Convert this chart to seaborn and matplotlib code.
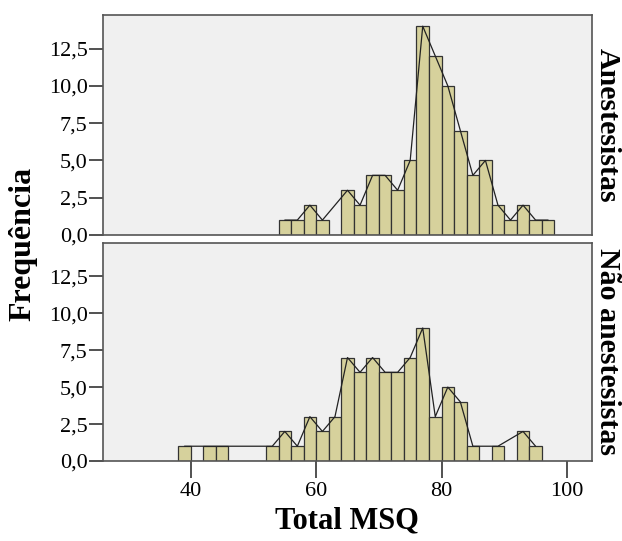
import matplotlib
matplotlib.use("Agg")
import matplotlib.pyplot as plt
import seaborn as sns
import numpy as np
import pandas as pd

# bin counts, bins of width 2 starting at the given left edge
group_labels = ["Anestesistas", "Não anestesistas"]
anest_start = 54
anest_counts = [1, 1, 2, 1, 0, 3, 2, 4, 4, 3, 5, 14, 12, 10, 7, 4, 5, 2, 1, 2, 1, 1]
nao_start = 38
nao_counts = [1, 0, 1, 1, 0, 0, 0, 1, 2, 1, 3, 2, 3, 7, 6, 7, 6, 6, 7, 9, 3, 5, 4, 1, 0, 1, 0, 2, 1]
bin_width = 2
x_ticks = [40, 60, 80, 100]
y_ticks = [0, 2.5, 5, 7.5, 10, 12.5]

sns.set_style("white")
plt.rcParams['font.family'] = ['Liberation Serif', 'DejaVu Serif']
plt.rcParams['text.color'] = 'black'
plt.rcParams['xtick.labelcolor'] = 'black'
plt.rcParams['ytick.labelcolor'] = 'black'

bar_color = "#d6d19c"
panel_bg = "#f0f0f0"
spine_col = "#555555"

fig = plt.figure(figsize=(6.22, 5.41), dpi=100)
ax_top = fig.add_axes([103/622, 1-235/541, 489/622, 220/541])
ax_bot = fig.add_axes([103/622, 1-461/541, 489/622, 218/541])

def comma(v, pos=None):
    return f"{v:.1f}".replace('.', ',')

for ax, start, counts, label in [(ax_top, anest_start, anest_counts, group_labels[0]),
                                 (ax_bot, nao_start, nao_counts, group_labels[1])]:
    n = len(counts)
    centers = start + bin_width * np.arange(n) + bin_width / 2
    df = pd.DataFrame({"msq": centers, "freq": counts})
    sns.histplot(data=df, x="msq", weights="freq", binwidth=bin_width,
                 binrange=(start, start + bin_width * n), ax=ax,
                 color=bar_color, alpha=1, edgecolor="#333333", linewidth=0.9)
    nz = df[df["freq"] > 0]
    sns.lineplot(data=nz, x="msq", y="freq", ax=ax, color="#222222",
                 linewidth=0.9, estimator=None, sort=True)
    ax.set_facecolor(panel_bg)
    ax.set_xlim(26, 104)
    ax.set_ylim(0, 14.75)
    ax.set_yticks(y_ticks)
    ax.yaxis.set_major_formatter(matplotlib.ticker.FuncFormatter(comma))
    ax.set_xlabel("")
    ax.set_ylabel("")
    for s in ax.spines.values():
        s.set_color(spine_col)
        s.set_linewidth(1.2)
    ax.tick_params(axis='y', which='major', length=10, width=1.2, color="#333333",
                   labelsize=16, pad=1, left=True)
    ax.text(1.031, 0.5, label, transform=ax.transAxes, rotation=270,
            ha='center', va='center', fontsize=21.5, fontweight='bold')

ax_top.set_xticks(x_ticks)
ax_top.tick_params(axis='x', bottom=False, labelbottom=False)
ax_bot.set_xticks(x_ticks)
ax_bot.tick_params(axis='x', which='major', length=12, width=1.2, color="#333333",
                   labelsize=16, pad=3, bottom=True)

fig.text(23/622, 1-244/541, "Frequência", rotation=90, ha='center', va='center',
         fontsize=23, fontweight='bold')
fig.text(347/622, 1-521/541, "Total MSQ", ha='center', va='center',
         fontsize=22, fontweight='bold')

fig.savefig("out.png", dpi=100)
